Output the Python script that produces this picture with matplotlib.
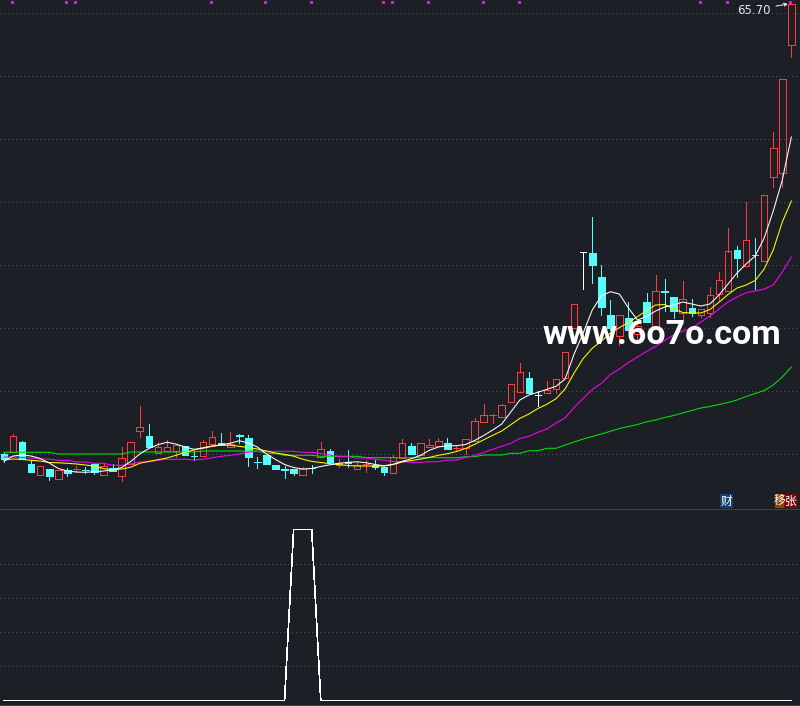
import matplotlib
matplotlib.use("Agg")
import matplotlib.pyplot as plt
from matplotlib.patches import Rectangle
from matplotlib.lines import Line2D

plt.rcParams['font.family'] = ['Noto Sans CJK SC', 'DejaVu Sans']

# ---- daily OHLC ----
opens = [20.70, 20.90, 21.90, 19.70, 18.57, 19.20, 18.17, 19.10, 19.20, 19.12,
         19.70, 18.57, 19.30, 18.47, 19.73, 23.03, 22.50, 20.83, 20.97, 21.03,
         21.47, 20.55, 20.47, 21.73, 21.80, 21.43, 22.60, 22.30, 19.95, 20.63,
         19.60, 19.20, 19.20, 18.63, 19.35, 20.37, 21.00, 19.57, 19.90, 19.17,
         19.67, 19.60, 19.37, 18.83, 20.33, 21.50, 20.60, 21.37, 21.53, 21.80,
         21.30, 21.27, 22.00, 23.87, 24.57, 24.43, 25.87, 26.93, 28.27, 26.57,
         26.77, 27.17, 28.35, 33.27, 40.93, 40.80, 38.40, 34.57, 32.50, 34.27,
         32.70, 35.87, 33.25, 36.95, 36.37, 34.83, 35.27, 34.60, 34.77, 36.67,
         37.03, 41.10, 39.53, 40.62, 40.03, 48.37, 48.83, 61.57]
highs = [20.90, 22.70, 22.00, 20.10, 19.50, 19.20, 19.07, 19.27, 19.53, 19.37,
         19.80, 19.67, 19.70, 21.40, 21.93, 25.50, 23.70, 21.93, 22.10, 21.57,
         21.47, 20.97, 22.07, 23.00, 22.80, 22.93, 22.70, 22.60, 20.37, 20.63,
         19.60, 19.47, 19.20, 19.37, 19.57, 21.90, 21.20, 20.20, 21.10, 19.93,
         20.10, 20.10, 19.37, 20.63, 22.20, 21.83, 21.77, 22.20, 22.30, 22.30,
         21.47, 22.17, 24.30, 25.70, 24.67, 25.70, 27.67, 29.80, 28.90, 27.03,
         28.00, 28.17, 30.87, 35.67, 40.93, 44.43, 39.57, 36.10, 34.57, 35.90,
         33.90, 36.77, 38.60, 38.20, 36.37, 38.00, 36.20, 35.20, 37.40, 38.90,
         43.30, 41.50, 45.90, 42.27, 46.57, 52.87, 58.17, 65.70]
lows = [19.90, 20.90, 20.20, 18.93, 18.57, 18.13, 18.17, 18.53, 18.93, 18.77,
        18.73, 18.57, 18.97, 18.03, 19.73, 22.37, 21.43, 20.83, 20.97, 20.43,
        20.57, 20.07, 20.47, 21.73, 21.75, 21.40, 21.77, 19.50, 19.30, 19.73,
        19.23, 18.33, 18.60, 18.63, 18.83, 20.37, 19.93, 19.43, 19.37, 19.17,
        18.93, 19.17, 18.63, 18.77, 20.33, 20.70, 20.60, 21.37, 21.53, 21.23,
        21.03, 20.67, 22.00, 23.87, 23.83, 24.43, 25.87, 26.93, 26.83, 25.50,
        26.77, 26.77, 28.35, 33.27, 37.25, 37.83, 34.60, 33.10, 31.60, 33.10,
        31.90, 33.93, 33.25, 35.00, 34.30, 34.10, 34.50, 34.37, 34.37, 36.10,
        37.03, 38.43, 39.53, 37.17, 40.03, 47.43, 47.37, 60.43]
closes = [20.20, 22.50, 20.20, 18.93, 19.50, 18.53, 19.07, 18.77, 19.25, 19.07,
          18.87, 19.50, 18.97, 20.27, 21.87, 23.37, 21.43, 21.37, 21.37, 21.57,
          20.57, 20.50, 21.87, 22.37, 21.75, 21.67, 22.55, 20.43, 19.90, 19.73,
          19.23, 19.15, 18.80, 19.17, 19.30, 21.17, 19.93, 19.77, 19.85, 19.60,
          19.73, 19.37, 18.93, 20.37, 21.77, 20.70, 21.77, 21.57, 21.97, 21.23,
          21.35, 22.17, 24.00, 24.57, 24.62, 25.57, 27.67, 28.87, 26.83, 26.57,
          27.07, 28.17, 30.87, 35.67, 40.93, 39.63, 35.43, 33.30, 34.57, 33.15,
          33.50, 33.93, 37.00, 36.90, 35.03, 36.17, 34.83, 35.20, 36.57, 38.07,
          40.95, 40.33, 42.10, 40.58, 46.57, 51.27, 58.17, 65.70]

# ---- moving averages ----
ma5 = [20.00, 20.50, 20.60, 20.50, 20.25, 19.80, 19.25, 19.00, 18.90, 18.87,
       18.92, 19.00, 19.12, 19.35, 19.95, 20.70, 21.25, 21.63, 21.87, 21.70,
       21.40, 21.17, 21.27, 21.47, 21.62, 21.77, 22.03, 21.80, 21.40, 20.70,
       20.15, 19.65, 19.35, 19.20, 19.25, 19.45, 19.62, 19.77, 19.87, 19.92,
       19.83, 19.65, 19.52, 19.67, 19.97, 20.23, 20.55, 21.07, 21.40, 21.52,
       21.53, 21.65, 22.05, 22.55, 23.10, 23.70, 24.90, 26.10, 26.60, 26.87,
       27.17, 27.47, 28.20, 30.70, 32.80, 35.10, 36.50, 36.93, 36.70, 35.30,
       34.10, 34.45, 35.00, 35.40, 35.60, 35.90, 35.70, 35.50, 35.70, 36.60,
       37.70, 38.80, 39.70, 40.50, 42.30, 45.00, 48.10, 52.40]
ma10 = [20.10, 20.20, 20.15, 20.07, 20.00, 19.85, 19.82, 19.77, 19.70, 19.60,
        19.48, 19.25, 19.10, 19.20, 19.38, 19.77, 19.97, 20.13, 20.30, 20.57,
        20.87, 21.10, 21.34, 21.50, 21.57, 21.57, 21.47, 21.34, 21.20, 21.00,
        20.80, 20.67, 20.48, 20.18, 19.96, 19.85, 19.74, 19.64, 19.55, 19.50,
        19.50, 19.50, 19.50, 19.65, 19.90, 20.05, 20.18, 20.36, 20.57, 20.73,
        20.95, 21.25, 21.66, 22.12, 22.57, 23.00, 23.63, 24.26, 24.70, 25.25,
        25.68, 26.23, 27.20, 28.80, 30.25, 31.27, 31.98, 32.80, 33.34, 33.85,
        34.43, 35.05, 35.60, 35.65, 35.22, 34.85, 34.81, 34.80, 35.15, 35.87,
        36.65, 37.30, 37.60, 38.05, 39.20, 41.10, 43.90, 46.00]
ma20 = [20.40, 20.40, 20.35, 20.30, 20.20, 20.20, 20.07, 20.07, 19.90, 19.90,
        19.77, 19.77, 19.57, 19.57, 19.70, 19.90, 19.90, 20.07, 20.17, 20.17,
        20.17, 20.10, 20.17, 20.33, 20.47, 20.57, 20.70, 20.87, 20.97, 20.97,
        20.97, 20.97, 20.97, 20.87, 20.87, 20.77, 20.60, 20.43, 20.43, 20.30,
        20.30, 20.17, 20.07, 19.95, 19.93, 19.87, 19.87, 19.93, 19.93, 20.10,
        20.10, 20.35, 20.55, 20.85, 21.17, 21.47, 21.77, 22.25, 22.47, 22.87,
        23.20, 23.80, 24.30, 25.35, 26.25, 27.15, 27.75, 28.65, 29.20, 29.85,
        30.40, 30.95, 31.47, 32.05, 32.60, 33.00, 33.30, 33.90, 34.50, 35.20,
        35.90, 36.40, 36.83, 37.00, 37.20, 37.60, 38.90, 40.40]
ma60 = [20.87, 20.87, 20.87, 20.87, 20.87, 20.87, 20.70, 20.70, 20.70, 20.70,
        20.70, 20.70, 20.70, 20.70, 20.90, 20.90, 20.90, 20.90, 20.90, 20.90,
        20.90, 20.90, 21.00, 21.00, 21.00, 21.00, 21.00, 21.00, 21.00, 20.77,
        20.77, 20.57, 20.57, 20.57, 20.57, 20.47, 20.47, 20.47, 20.47, 20.47,
        20.35, 20.33, 20.33, 20.33, 20.33, 20.33, 20.33, 20.33, 20.33, 20.33,
        20.33, 20.43, 20.43, 20.60, 20.60, 20.60, 20.77, 20.77, 21.03, 21.03,
        21.27, 21.27, 21.60, 21.90, 22.20, 22.45, 22.70, 22.97, 23.25, 23.45,
        23.65, 23.92, 24.10, 24.35, 24.55, 24.80, 25.05, 25.30, 25.45, 25.65,
        25.85, 26.10, 26.45, 26.75, 27.05, 27.60, 28.40, 29.40]

# ---- signal bars marked along the top edge ----
signal_bars = [1, 7, 8, 23, 29, 34, 42, 43, 47, 53, 57, 77, 80, 87]

# ---- lower indicator ----
indicator = [0, 0, 0, 0, 0, 0, 0, 0, 0, 0,
             0, 0, 0, 0, 0, 0, 0, 0, 0, 0,
             0, 0, 0, 0, 0, 0, 0, 0, 0, 0,
             0, 0, 100, 100, 100, 0, 0, 0, 0, 0,
             0, 0, 0, 0, 0, 0, 0, 0, 0, 0,
             0, 0, 0, 0, 0, 0, 0, 0, 0, 0,
             0, 0, 0, 0, 0, 0, 0, 0, 0, 0,
             0, 0, 0, 0, 0, 0, 0, 0, 0, 0,
             0, 0, 0, 0, 0, 0, 0, 0]

last_label = "65.70"
badge_fin = "财"
badge_a = "移"
badge_b = "张"
watermark = "www.6o7o.com"

# ---- styling ----
BG = "#1c1f26"
RED = "#ff3c3c"
CYAN = "#54fcfc"
GRID = "#4a5262"
SEP = "#3a4150"
LW = 0.5      # candle strokes
MALW = 0.75   # moving-average strokes

W, H = 800, 706
fig = plt.figure(figsize=(W / 100, H / 100), dpi=100, facecolor=BG)

ax = fig.add_axes([0, 198 / H, 1, 508 / H], facecolor=BG)
ax2 = fig.add_axes([0, 0, 1, 197 / H], facecolor=BG)

n = len(closes)
xs = list(range(n))
xlim = (-0.442, 87.956)
for a in (ax, ax2):
    a.set_xlim(*xlim)
    a.set_axis_off()

ax.set_ylim(15.3, 66.1)
ax2.set_ylim(-3.216, 111.99)

# dotted grid
for g in [64.8, 58.5, 52.2, 45.9, 39.6, 33.3, 27.0, 20.7]:
    ax.axhline(g, color=GRID, lw=0.72, linestyle=(0, (1, 3)), zorder=0.5, antialiased=False)
for g in [20, 40, 60, 80]:
    ax2.axhline(g, color=GRID, lw=0.72, linestyle=(0, (1, 3)), zorder=0.5, antialiased=False)

# candlesticks
bw = 0.72
for i in range(n):
    o, h, l, c = opens[i], highs[i], lows[i], closes[i]
    lo, hi = min(o, c), max(o, c)
    if c > o:
        ax.add_patch(Rectangle((i - bw / 2, lo), bw, hi - lo, fill=False,
                               edgecolor=RED, lw=LW, antialiased=False, zorder=2))
        if h > hi:
            ax.vlines(i, hi, h, color=RED, lw=LW, antialiased=False, zorder=2)
        if l < lo:
            ax.vlines(i, l, lo, color=RED, lw=LW, antialiased=False, zorder=2)
    elif c < o:
        ax.vlines(i, l, h, color=CYAN, lw=LW, antialiased=False, zorder=2)
        ax.add_patch(Rectangle((i - bw / 2, lo), bw, hi - lo, facecolor=CYAN,
                               edgecolor=CYAN, lw=LW, antialiased=False, zorder=2))
    else:
        ax.vlines(i, l, h, color="white", lw=LW, antialiased=False, zorder=2)
        ax.hlines(c, i - bw / 2, i + bw / 2, color="white", lw=LW, antialiased=False, zorder=2)

# moving averages
ax.plot(xs, ma60, color="#00e600", lw=MALW, zorder=3)
ax.plot(xs, ma20, color="#ff00ff", lw=MALW, zorder=3)
ax.plot(xs, ma10, color="#ffff00", lw=MALW, zorder=3)
ax.plot(xs, ma5, color="white", lw=MALW, zorder=3)


def fx(px):
    return px / W


def fy(py):
    return 1 - py / H


# signal markers along the top: small 3px squares
bar_px = W / (xlim[1] - xlim[0])
for b in signal_bars:
    cx = (b - xlim[0]) * bar_px
    fig.add_artist(Rectangle((fx(cx - 2), fy(4)), 3 / W, 3 / H, facecolor="#ff00ff",
                             edgecolor="none", transform=fig.transFigure,
                             antialiased=False, zorder=6))

# last price label with arrow
ax.annotate(last_label, xy=(86.62, highs[-1]), xytext=(81.0, 65.1),
            ha="left", va="center", fontsize=8.5, color="#dce8f8",
            family=["DejaVu Sans"],
            arrowprops=dict(arrowstyle="->", color="white", lw=0.7,
                            linestyle=(0, (3, 1)), shrinkA=2, shrinkB=0,
                            mutation_scale=6), zorder=5)

# lower indicator
ax2.plot(xs, indicator, color="white", lw=LW, antialiased=False, zorder=3)

# panel separators
fig.add_artist(Line2D([0, 1], [fy(508.5), fy(508.5)], color=SEP, lw=0.72))
fig.add_artist(Line2D([0, 1], [fy(704.5), fy(704.5)], color=SEP, lw=0.72))


# info badges
def badge(x0, x1, y0, y1, color, text, tx):
    fig.add_artist(Rectangle((fx(x0), fy(y1)), fx(x1 - x0), (y1 - y0) / H,
                             facecolor=color, edgecolor="none", transform=fig.transFigure))
    fig.text(fx(tx), fy((y0 + y1) / 2), text, ha="center", va="center",
             fontsize=8.5, color="white", family=["Noto Sans CJK SC", "DejaVu Sans"])


badge(720, 733, 494, 508, "#153f73", badge_fin, 726.5)
badge(775, 784, 494, 508, "#8a4500", badge_a, 779.5)
badge(784, 797, 494, 508, "#7a0a0a", badge_b, 790.5)

# watermark
fig.text(fx(661.5), fy(344), watermark, ha="center", va="baseline",
         fontsize=24.5, fontweight="bold", color="white",
         family=["Roboto", "DejaVu Sans"], zorder=10)

fig.savefig("out.png", dpi=100, facecolor=BG)
